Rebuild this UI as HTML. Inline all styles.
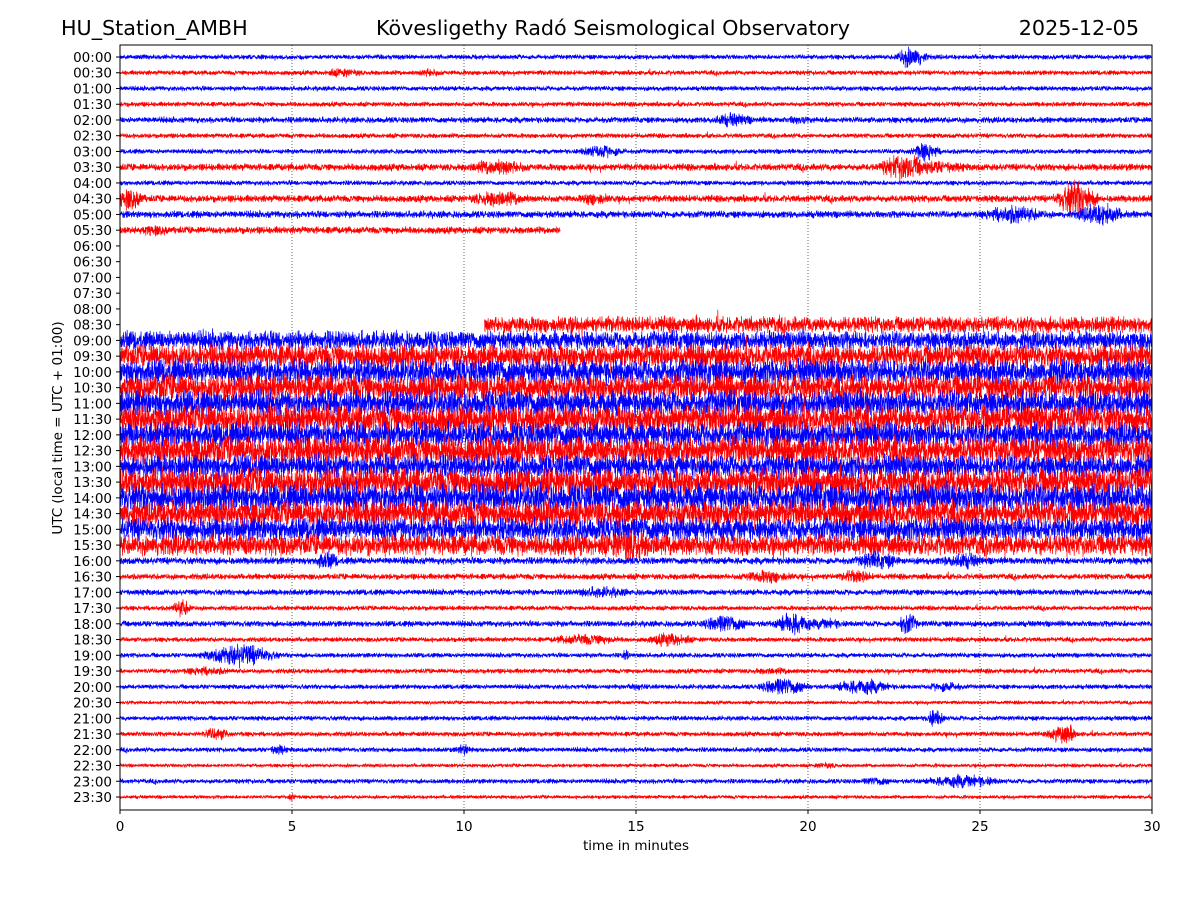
<!DOCTYPE html>
<html><head><meta charset="utf-8"><style>
html,body{margin:0;padding:0;background:#fff;}
svg text{font-family:"DejaVu Sans","Liberation Sans",sans-serif;fill:#000;}
</style></head><body>
<svg id="chart" width="1200" height="900" viewBox="0 0 1200 900" xmlns="http://www.w3.org/2000/svg">
<text x="61" y="35" font-size="20.7">HU_Station_AMBH</text>
<text x="613" y="35" font-size="20.7" text-anchor="middle">Kövesligethy Radó Seismological Observatory</text>
<text x="1139" y="35" font-size="20.7" text-anchor="end">2025-12-05</text>
<g id="grid"></g>
<g id="traces"></g>
<rect x="120" y="45" width="1032" height="765" fill="none" stroke="#000" stroke-width="1"/>
<g id="axes"></g>
<text x="636" y="850" font-size="13.5" text-anchor="middle">time in minutes</text>
<text transform="translate(62,428) rotate(-90)" font-size="13.5" text-anchor="middle">UTC (local time = UTC + 01:00)</text>
</svg>
<script>
const rowLabels = ["00:00","00:30","01:00","01:30","02:00","02:30","03:00","03:30","04:00","04:30","05:00","05:30","06:00","06:30","07:00","07:30","08:00","08:30","09:00","09:30","10:00","10:30","11:00","11:30","12:00","12:30","13:00","13:30","14:00","14:30","15:00","15:30","16:00","16:30","17:00","17:30","18:00","18:30","19:00","19:30","20:00","20:30","21:00","21:30","22:00","22:30","23:00","23:30"];
const baseAmp = [2,2,2,2,2.5,2,2,3,2,3,3,3,0,0,0,0,0,7,8,10,11,11,11,12,11,12,10,12,12,11,10,9,3,2.5,2.5,2,2.5,2,2,2,2,1.5,2,2,2,1.5,2,1.5];
const rowStart = [0,0,0,0,0,0,0,0,0,0,0,0,30,30,30,30,30,10.6,0,0,0,0,0,0,0,0,0,0,0,0,0,0,0,0,0,0,0,0,0,0,0,0,0,0,0,0,0,0];
const rowEnd = [30,30,30,30,30,30,30,30,30,30,30,12.8,0,0,0,0,0,30,30,30,30,30,30,30,30,30,30,30,30,30,30,30,30,30,30,30,30,30,30,30,30,30,30,30,30,30,30,30];
const eventRow = [0,1,1,4,4,6,6,7,7,7,9,9,9,9,10,10,11,17,31,31,32,32,32,33,33,34,35,36,36,36,36,37,37,38,38,39,39,40,40,40,40,42,43,43,44,44,45,46,46,47];
const eventMin = [23,6.5,9,17.8,19.7,14,23.4,11,22.8,23.5,0.3,11,13.8,27.8,26,28.5,1,13.2,14.8,4,6,22,24.5,18.8,21.4,14,1.8,17.6,19.6,22.9,20.5,13.5,16,3.5,14.7,2.5,19,19.3,21.6,24,15,23.7,2.8,27.4,4.6,10,20.5,24.5,22,5];
const eventWidth = [0.3,0.5,0.3,0.5,0.3,0.5,0.3,0.7,0.5,1,0.3,0.7,0.4,0.4,0.7,0.5,0.5,0.8,0.5,1,0.3,0.5,0.5,0.6,0.4,0.7,0.2,0.5,0.4,0.2,0.5,0.8,0.5,0.7,0.1,0.6,0.8,0.5,0.6,0.4,0.2,0.2,0.3,0.3,0.2,0.2,0.3,0.8,0.4,0.1];
const eventAmp = [10,4,4,6,4,6,8,7,12,6,10,7,6,16,8,10,5,8,16,4,8,8,7,6,6,5,8,8,10,10,5,5,6,10,5,4,3,8,7,5,4,8,6,9,5,5,3,6,4,4];
const xTicks = [0,5,10,15,20,25,30];

const X0=120,X1=1152,Y0=57,DY=(797-57)/47,AMP=1.35;
const xs = m => X0 + (m/30)*(X1-X0);
const ys = r => Y0 + r*DY;
const NS="http://www.w3.org/2000/svg";
const grid=document.getElementById('grid'), axes=document.getElementById('axes'), traces=document.getElementById('traces');

xTicks.forEach(t=>{
  const x=xs(t);
  if(t>0&&t<30){const g=document.createElementNS(NS,'line');
    
    
    g.setAttribute('x1',x);g.setAttribute('x2',x);g.setAttribute('y1',45);g.setAttribute('y2',810);
    g.setAttribute('stroke','#000');g.setAttribute('stroke-width','0.6');g.setAttribute('stroke-dasharray','1,2');grid.appendChild(g);}
  const tk=document.createElementNS(NS,'line');
  
  
  tk.setAttribute('x1',x);tk.setAttribute('x2',x);tk.setAttribute('y1',810);tk.setAttribute('y2',814);tk.setAttribute('stroke','#000');axes.appendChild(tk);
  const tx=document.createElementNS(NS,'text');
  
  
  tx.setAttribute('x',x);tx.setAttribute('y',831);tx.setAttribute('font-size','13.5');tx.setAttribute('text-anchor','middle');tx.textContent=t;axes.appendChild(tx);
});
rowLabels.forEach((l,r)=>{
  const y=ys(r);
  const tk=document.createElementNS(NS,'line');
  
  
  tk.setAttribute('x1',116);tk.setAttribute('x2',120);tk.setAttribute('y1',y);tk.setAttribute('y2',y);tk.setAttribute('stroke','#000');axes.appendChild(tk);
  const tx=document.createElementNS(NS,'text');
  
  
  tx.setAttribute('x',112);tx.setAttribute('y',y+5);tx.setAttribute('font-size','13.5');tx.setAttribute('text-anchor','end');tx.textContent=l;axes.appendChild(tx);
});

// deterministic texture generator (waveform detail only; envelope comes from data arrays)
let seed=12345;
function rnd(){seed=(seed*1103515245+12345)%2147483648;return seed/2147483648;}
function noise(){return (rnd()+rnd()-1);}

for(let r=0;r<rowLabels.length;r++){
  if(rowEnd[r]<=rowStart[r])continue;
  const y=ys(r);
  const color = r%2===0 ? '#0000ff' : '#ff0000';
  const xa=xs(rowStart[r]), xb=xs(rowEnd[r]);
  const n=Math.round((xb-xa)*5);
  let d='';
  for(let i=0;i<=n;i++){
    const x=xa+(xb-xa)*i/n;
    const m=(x-X0)/(X1-X0)*30;
    let a=baseAmp[r];
    for(let e=0;e<eventRow.length;e++){
      if(eventRow[e]!==r)continue;
      const dm=(m-eventMin[e])/eventWidth[e];
      if(Math.abs(dm)<3)a=Math.max(a,eventAmp[e]*Math.exp(-dm*dm/2));
    }
    let v=noise()*a*AMP;
    if(rnd()<0.005)v*=1.7;
    d+=(i?'L':'M')+x.toFixed(1)+' '+(y+v).toFixed(1);
  }
  const p=document.createElementNS(NS,'path');
  
  
  p.setAttribute('d',d);p.setAttribute('fill','none');p.setAttribute('stroke',color);p.setAttribute('stroke-width','0.7');
  traces.appendChild(p);
}
</script>
</body></html>
